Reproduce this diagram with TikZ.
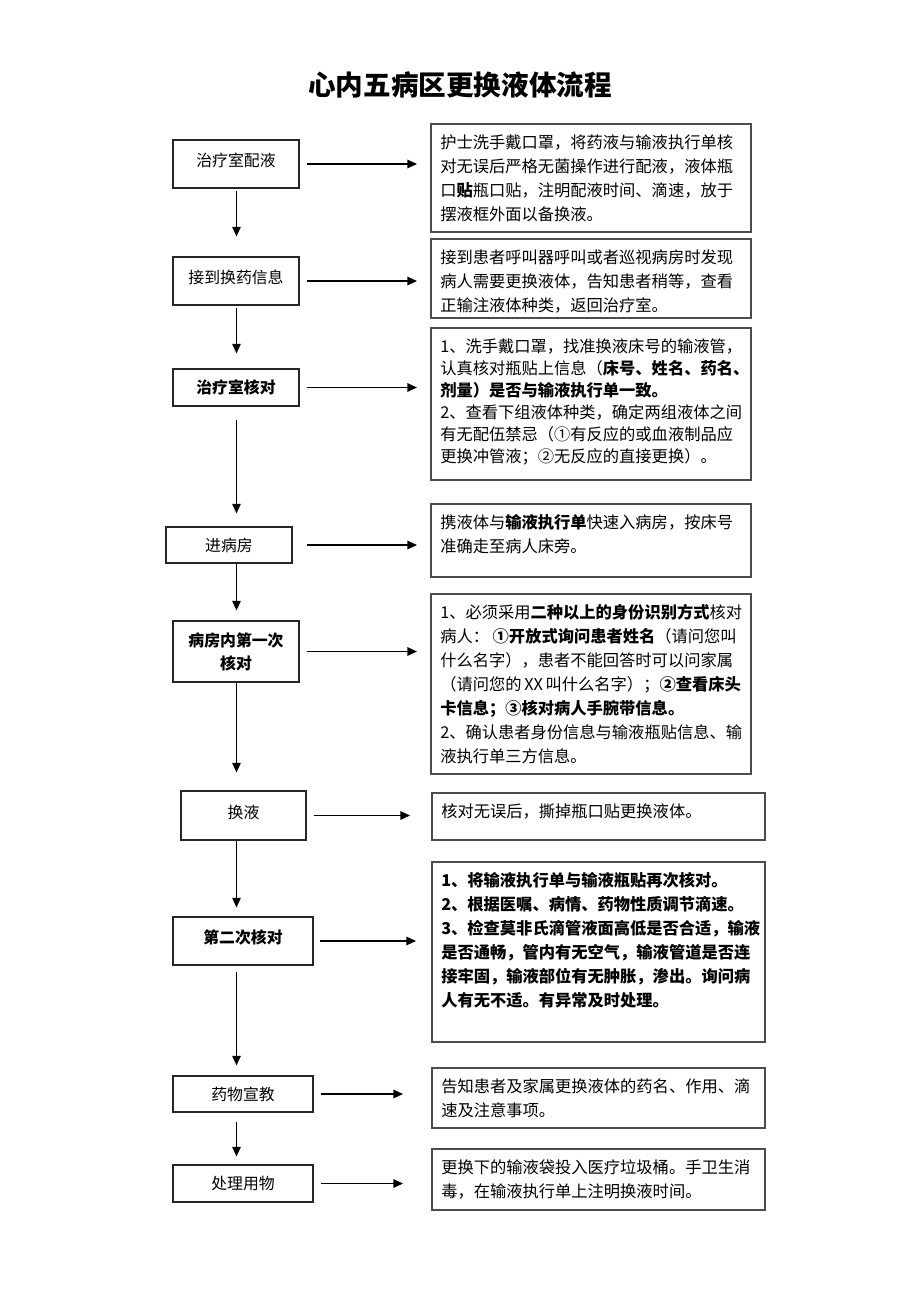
\documentclass[tikz,border=0pt]{standalone}
\usepackage{fontspec}
\setmainfont{Noto Sans CJK SC}
\usetikzlibrary{arrows.meta}

\begin{document}
\begin{tikzpicture}[x=0.75pt,y=-0.75pt,
    stepbox/.style={draw=black!85, line width=0.9pt, minimum width=94.5pt, minimum height=36pt,
      inner sep=0pt, align=center, font=\fontsize{11.9}{17.25}\selectfont},
    raised/.style={text height=9.5pt, text depth=5.5pt},
    notebox/.style={draw=black!70, line width=1.4pt, anchor=north west, inner xsep=7pt,
      inner ysep=8pt, font=\fontsize{12.2}{18}\selectfont},
    flow/.style={-{Triangle[length=7.2pt,width=6.4pt]}, line width=0.9pt}]
    \useasboundingbox (0,0) rectangle (920,1302);

    \node (title) at (460,85) {\fontsize{20.7}{24}\selectfont\bfseries 心内五病区更换液体流程};

    % Define the positions of the nodes
    \coordinate (axis) at (236.5,0);
    \node[stepbox, raised] (pei) at (236,164) {治疗室配液};
    \node[stepbox, raised] (jie) at (236,281) {接到换药信息};
    \node[stepbox, minimum height=27.75pt] (hedui) at (236,387.5) {\bfseries 治疗室核对};
    \node[stepbox, minimum height=27pt] (jinfang) at (229,545) {进病房};
    \node[stepbox, minimum height=45.75pt] (diyici) at (236,651.5) {\bfseries 病房内第一次\\\bfseries 核对};
    \node[stepbox, raised, minimum width=93.75pt, minimum height=36.75pt] (huanye) at (243.5,815.5) {换液};
    \node[stepbox, raised, minimum width=105pt] (dierci) at (243,941) {\bfseries 第二次核对};
    \node[stepbox, minimum width=105pt, minimum height=27pt] (xuanjiao) at (243,1094) {药物宣教};
    \node[stepbox, minimum width=105pt, minimum height=27.75pt] (chuli) at (243,1183.5) {处理用物};

    \node[notebox] (peinote) at (430,123) {\parbox[c][65pt][t]{226pt}{%
      护士洗手戴口罩，将药液与输液执行单核\\
      对无误后严格无菌操作进行配液，液体瓶\\
      口\textbf{贴}瓶口贴，注明配液时间、滴速，放于\\
      摆液框外面以备换液。}};
    \node[notebox] (jienote) at (430,238) {\parbox[c][43.25pt][t]{226pt}{%
      接到患者呼叫器呼叫或者巡视病房时发现\\
      病人需要更换液体，告知患者稍等，查看\\
      正输注液体种类，返回治疗室。}};
    \node[notebox] (heduinote) at (430,327) {\parbox[c][98pt][t]{226pt}{\fontsize{12.2}{16.5}\selectfont
      1、洗手戴口罩，找准换液床号的输液管，\\
      认真核对瓶贴上信息（\textbf{床号、姓名、药名、}\\
      \textbf{剂量）是否与输液执行单一致。}\\
      2、查看下组液体种类，确定两组液体之间\\
      有无配伍禁忌（①有反应的或血液制品应\\
      更换冲管液；②无反应的直接更换）。}};
    \node[notebox] (jinfangnote) at (430,503) {\parbox[c][38.75pt][t]{226pt}{%
      携液体与\textbf{输液执行单}快速入病房，按床号\\
      准确走至病人床旁。}};
    \node[notebox] (diyicinote) at (430,593) {\parbox[c][119pt][t]{226pt}{%
      1、必须采用\textbf{二种以上的身份识别方式}核对\\
      病人：\ \textbf{①开放式询问患者姓名}（请问您叫\\
      什么名字），患者不能回答时可以问家属\\
      \mbox{（请问您的\,XX\,叫什么名字）；\textbf{②查看床头}}\\
      \textbf{卡信息；③核对病人手腕带信息。}\\
      2、确认患者身份信息与输液瓶贴信息、输\\
      液执行单三方信息。}};
    \node[notebox] (huanyenote) at (431,792) {\parbox[c][19.25pt][t]{235.75pt}{%
      核对无误后，撕掉瓶口贴更换液体。}};
    \node[notebox] (diercinote) at (431,861) {\parbox[c][119pt][t]{235.75pt}{\bfseries
      1、将输液执行单与输液瓶贴再次核对。\\
      2、根据医嘱、病情、药物性质调节滴速。\\
      3、检查莫非氏滴管液面高低是否合适，输液\\
      是否通畅，管内有无空气，输液管道是否连\\
      接牢固，输液部位有无肿胀，渗出。询问病\\
      人有无不适。有异常及时处理。}};
    \node[notebox] (xuanjiaonote) at (431,1067) {\parbox[c][29pt][t]{235.75pt}{%
      告知患者及家属更换液体的药名、作用、滴\\
      速及注意事项。}};
    \node[notebox] (chulinote) at (431,1148) {\parbox[c][29.75pt][t]{235.75pt}{%
      更换下的输液袋投入医疗垃圾桶。手卫生消\\
      毒，在输液执行单上注明换液时间。}};

    % Draw the edges
    \draw[flow, shorten <=1.5pt, shorten >=15pt] (axis |- pei.south) -- (axis |- jie.north);
    \draw[flow, shorten <=1.5pt, shorten >=11.25pt] (axis |- jie.south) -- (axis |- hedui.north);
    \draw[flow, shorten <=9.75pt, shorten >=9.75pt] (axis |- hedui.south) -- (axis |- jinfang.north);
    \draw[flow, shorten >=7.5pt] (axis |- jinfang.south) -- (axis |- diyici.north);
    \draw[flow, shorten >=13.5pt] (axis |- diyici.south) -- (axis |- huanye.north);
    \draw[flow, shorten >=6.75pt] (axis |- huanye.south) -- (axis |- dierci.north);
    \draw[flow, shorten <=4.5pt, shorten >=7.5pt] (axis |- dierci.south) -- (axis |- xuanjiao.north);
    \draw[flow, shorten <=6.75pt, shorten >=6pt] (axis |- xuanjiao.south) -- (axis |- chuli.north);

    \draw[flow, shorten <=5.25pt, shorten >=9.75pt] (pei.east) -- (pei.east -| peinote.west);
    \draw[flow, shorten <=5.25pt, shorten >=9.75pt] (jie.east) -- (jie.east -| jienote.west);
    \draw[flow, shorten <=5.25pt, shorten >=9.75pt] (hedui.east) -- (hedui.east -| heduinote.west);
    \draw[flow, shorten <=10.5pt, shorten >=9.75pt] (jinfang.east) -- (jinfang.east -| jinfangnote.west);
    \draw[flow, shorten <=5.25pt, shorten >=9.75pt] (diyici.east) -- (diyici.east -| diyicinote.west);
    \draw[flow, shorten <=5.25pt, shorten >=15.75pt] (huanye.east) -- (huanye.east -| huanyenote.west);
    \draw[flow, shorten <=4.5pt, shorten >=11.25pt] (dierci.east) -- (dierci.east -| diercinote.west);
    \draw[flow, shorten <=5.25pt, shorten >=21pt] (xuanjiao.east) -- (xuanjiao.east -| xuanjiaonote.west);
    \draw[flow, shorten <=5.25pt, shorten >=21pt] (chuli.east) -- (chuli.east -| chulinote.west);
\end{tikzpicture}
\end{document}
